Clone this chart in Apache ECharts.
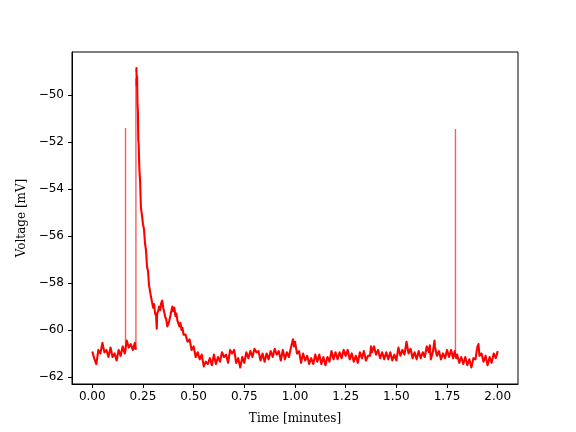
<!DOCTYPE html>
<html>
<head>
<meta charset="utf-8">
<script src="https://cdn.jsdelivr.net/npm/echarts@6/dist/echarts.min.js"></script>
<style>html,body{margin:0;padding:0;background:#fff}#c{width:576px;height:432px}</style>
</head>
<body>
<div id="c"></div>
<script>
// main voltage trace (minutes, mV)
var timeMin = [
0.00,0.01,0.02,0.03,0.04,0.05,0.06,0.07,0.08,0.09,0.10,0.11,0.12,0.13,0.14,0.15,0.16,0.163,0.165,
0.17,0.18,0.19,0.20,0.21,0.214,0.2155,0.217,0.218,0.219,0.221,0.223,0.225,0.227,0.229,0.232,0.236,0.240,0.245,
0.25,0.255,0.26,0.265,0.27,0.275,0.28,0.285,0.29,0.295,0.30,0.305,0.31,0.315,0.318,0.32,0.325,0.33,0.335,0.34,
0.345,0.35,0.355,0.36,0.365,0.37,0.375,0.38,0.385,0.39,0.395,0.40,0.405,0.41,0.415,0.42,0.425,0.43,0.435,0.44,
0.445,0.45,0.46,0.47,0.48,0.49,0.50,0.51,0.52,0.53,0.54,0.55,0.56,0.57,0.58,0.59,0.60,0.61,0.62,0.63,0.64,
0.65,0.66,0.67,0.68,0.69,0.70,0.71,0.72,0.73,0.74,0.75,0.76,0.77,0.78,0.79,0.80,0.81,0.82,0.83,0.84,0.85,
0.86,0.87,0.88,0.89,0.90,0.91,0.92,0.93,0.94,0.95,0.96,0.97,0.98,0.99,0.995,1.00,1.01,1.02,1.03,1.04,1.05,
1.06,1.07,1.08,1.09,1.10,1.11,1.12,1.13,1.14,1.15,1.16,1.17,1.18,1.19,1.20,1.21,1.22,1.23,1.24,1.25,1.26,
1.27,1.28,1.29,1.30,1.31,1.32,1.33,1.34,1.35,1.36,1.37,1.375,1.38,1.39,1.40,1.41,1.42,1.43,1.44,1.45,1.46,
1.47,1.48,1.49,1.50,1.51,1.52,1.53,1.54,1.55,1.56,1.57,1.58,1.59,1.60,1.61,1.62,1.63,1.64,1.65,1.66,1.665,
1.67,1.68,1.688,1.69,1.70,1.71,1.72,1.73,1.74,1.75,1.76,1.77,1.78,1.788,1.795,1.80,1.81,1.82,1.83,
1.84,1.85,1.86,1.87,1.88,1.89,1.90,1.905,1.91,1.92,1.93,1.94,1.95,1.96,1.97,1.98,1.99,2.00
];
var voltageMV = [
-60.92,-61.22,-61.45,-60.85,-61.00,-60.55,-60.95,-60.85,-61.15,-60.75,-61.15,-61.00,-61.30,-60.85,-61.10,-60.70,-61.00,-60.90,-60.75,
-60.45,-60.75,-60.60,-60.85,-60.55,-60.85,null,-49.00,-48.85,-49.60,-49.20,-50.40,-50.70,-51.90,-52.10,-53.10,-53.70,-54.80,-55.10,
-55.50,-55.70,-56.30,-56.60,-57.30,-57.50,-58.10,-58.10,-58.60,-58.60,-59.05,-58.90,-59.30,-59.40,-59.95,-59.30,-59.20,-59.00,-59.15,-58.85,
-58.75,-59.05,-59.10,-59.45,-59.55,-59.85,-59.75,-59.60,-59.40,-59.35,-59.00,-59.20,-59.05,-59.40,-59.30,-59.60,-59.55,-59.85,-59.70,-60.00,
-59.90,-60.20,-60.20,-60.50,-60.40,-60.85,-60.70,-61.15,-60.95,-61.25,-61.05,-61.55,-61.35,-61.45,-61.20,-61.50,-61.05,-61.45,-61.15,-61.35,-60.95,
-61.15,-61.05,-61.40,-60.85,-61.00,-60.85,-61.40,-61.20,-61.60,-61.15,-61.40,-60.95,-61.20,-60.90,-61.15,-60.80,-60.95,-60.90,-61.30,-61.00,-61.35,
-61.00,-61.25,-60.90,-61.15,-60.80,-61.05,-60.90,-61.30,-60.85,-61.25,-60.95,-61.15,-60.75,-60.40,-60.70,-60.50,-61.00,-60.90,-61.40,-61.00,-61.30,
-61.10,-61.45,-61.20,-61.45,-61.05,-61.35,-61.05,-61.45,-61.15,-61.50,-61.15,-61.35,-60.90,-61.25,-60.95,-61.25,-60.95,-61.20,-60.85,-61.10,-60.85,
-61.25,-61.00,-61.35,-61.10,-61.40,-60.95,-61.20,-60.90,-61.30,-61.10,-61.10,-60.70,-60.95,-60.70,-61.05,-60.85,-61.20,-60.95,-61.25,-60.95,-61.25,
-60.95,-61.30,-61.05,-61.30,-60.75,-61.10,-60.85,-61.05,-60.50,-61.00,-60.80,-61.20,-60.95,-61.25,-60.90,-61.20,-60.95,-61.15,-60.70,-60.95,-60.65,
-61.25,-60.95,-60.45,-60.70,-61.10,-60.90,-61.25,-61.00,-61.20,-60.85,-61.15,-60.85,-61.20,-60.90,-61.20,-61.05,-61.40,-61.15,-61.45,
-61.15,-61.50,-61.25,-61.60,-61.20,-61.25,-60.70,-60.60,-61.10,-61.00,-61.35,-61.10,-61.50,-61.15,-61.40,-61.00,-61.20,-60.90
];
// single-sample stimulus transients (minutes, base mV, top mV)
var spikeTimes = [0.164, 0.2152, 1.7915];
var spikeBase  = [-60.90, -60.85, -60.90];
var spikeTop   = [-51.40, -49.30, -51.45];
var xTicks = [0.00,0.25,0.50,0.75,1.00,1.25,1.50,1.75,2.00];
var yTicks = [-62,-60,-58,-56,-54,-52,-50];

var chart = echarts.init(document.getElementById('c'), null, {renderer:'canvas'});
var traceData = timeMin.map(function(t,i){return [t, voltageMV[i]];});
var spikeData = [];
spikeTimes.forEach(function(t,i){
  spikeData.push([t, spikeBase[i]]); spikeData.push([t, spikeTop[i]]); spikeData.push([t, null]);
});
var minus = function(s){return s.replace('-', '\u2212');};
chart.setOption({
  animation:false,
  backgroundColor:'#ffffff',
  grid:{left:72,right:58,top:52,bottom:48,show:true,borderColor:'#000',borderWidth:1,backgroundColor:'transparent'},
  xAxis:{
    type:'value',min:-0.1,max:2.1,
    name:'Time [minutes]',nameLocation:'middle',nameGap:29,
    nameTextStyle:{fontFamily:'DejaVu Serif',fontSize:12,color:'#000'},
    axisLine:{show:true,onZero:false,lineStyle:{color:'#000',width:1}},
    axisTick:{show:true,length:4,inside:false,lineStyle:{color:'#000'},customValues:xTicks},
    axisLabel:{show:true,margin:7,fontFamily:'DejaVu Sans',fontSize:12,color:'#000',customValues:xTicks,
      formatter:function(v){return minus(v.toFixed(2));}},
    splitLine:{show:false}
  },
  yAxis:{
    type:'value',min:-62.3,max:-48.17,
    name:'Voltage [mV]',nameLocation:'middle',nameGap:44,nameRotate:90,
    nameTextStyle:{fontFamily:'DejaVu Serif',fontSize:12,color:'#000'},
    axisLine:{show:true,onZero:false,lineStyle:{color:'#000',width:1}},
    axisTick:{show:true,length:4,inside:false,lineStyle:{color:'#000'},customValues:yTicks},
    axisLabel:{show:true,margin:8,fontFamily:'DejaVu Sans',fontSize:12,color:'#000',customValues:yTicks,
      formatter:function(v){return minus(String(v));}},
    splitLine:{show:false}
  },
  series:[{
    type:'line',data:spikeData,showSymbol:false,symbol:'none',connectNulls:false,
    lineStyle:{color:'rgba(240,40,40,0.75)',width:1.4},clip:true,z:1
  },{
    type:'line',data:traceData,showSymbol:false,symbol:'none',sampling:null,connectNulls:false,
    lineStyle:{color:'#ff0000',width:2.1,join:'round'},clip:true,z:2
  }]
});
</script>
</body>
</html>
